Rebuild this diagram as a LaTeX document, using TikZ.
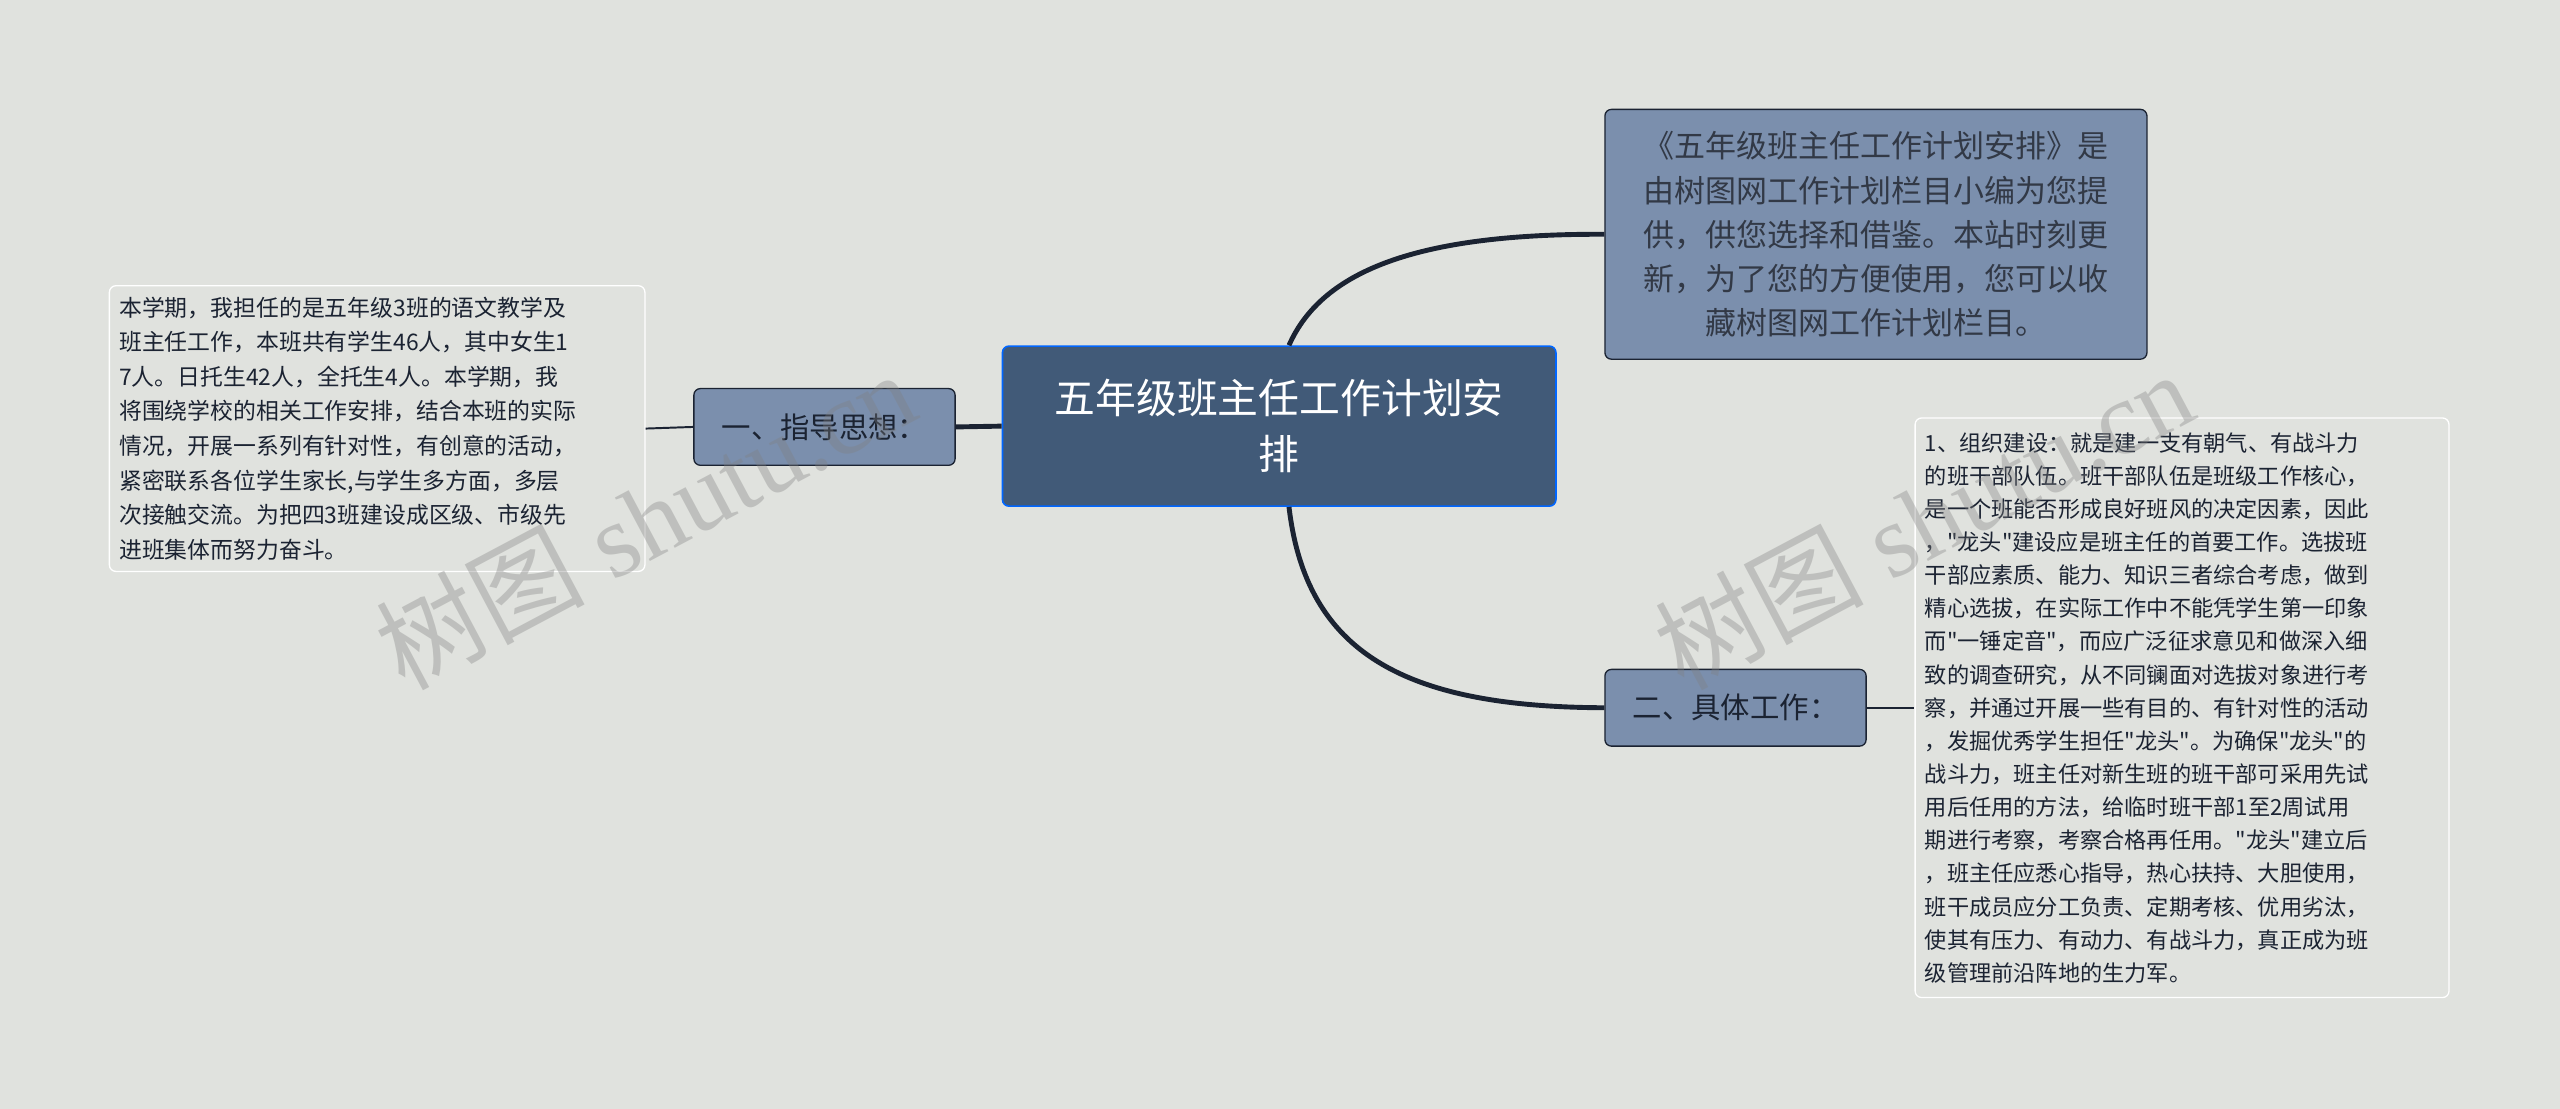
\documentclass[tikz,border=0pt]{standalone}
\usepackage{fontspec}
\newfontfamily\cjk{Noto Sans CJK SC}
\definecolor{bg}{HTML}{E0E2DE}
\definecolor{cen}{HTML}{415A78}
\definecolor{sub}{HTML}{7B8FAD}
\definecolor{ln}{HTML}{1B2332}
\begin{document}
\begin{tikzpicture}[x=1pt,y=-1pt,every node/.style={font=\cjk},
 subbox/.style={draw=ln,line width=0.8pt,fill=sub,rounded corners=4pt,inner sep=0pt},
 leaf/.style={draw=white,line width=0.8pt,fill=bg,rounded corners=4pt,inner sep=0pt},
 conn/.style={draw=ln,line width=3pt},
 wmark/.style={rotate=28,text=gray,opacity=0.35,font=\fontspec{Liberation Serif}\fontsize{64}{64}\selectfont}]
\fill[bg] (0,0) rectangle (1568,679);
\useasboundingbox (0,0) rectangle (1568,679);
% nodes
\node[draw=blue!60!cyan,line width=1pt,fill=cen,rounded corners=4pt,minimum width=339pt,minimum height=98pt,text=white,align=center,font=\cjk\fontsize{25}{34}\selectfont] (c) at (783.5,261) {五年级班主任工作计划安\\排};
\node[subbox,minimum width=332pt,minimum height=153pt,align=center,font=\cjk\fontsize{19}{27}\selectfont,text=ln!90] (t) at (1149,143.5) {《五年级班主任工作计划安排》是\\由树图网工作计划栏目小编为您提\\供，供您选择和借鉴。本站时刻更\\新，为了您的方便使用，您可以收\\藏树图网工作计划栏目。};
\node[subbox,minimum width=160pt,minimum height=47pt,font=\cjk\fontsize{18}{20}\selectfont,text=ln] (l) at (505,261.5) {一、指导思想：};
\node[subbox,minimum width=160pt,minimum height=47pt,font=\cjk\fontsize{18}{20}\selectfont,text=ln] (r) at (1063,433.5) {二、具体工作：};
\node[leaf,minimum width=328pt,minimum height=175pt,text width=316pt,align=left,font=\cjk\fontsize{14}{21.2}\selectfont,text=ln] (lt) at (231,262.5) {本学期，我担任的是五年级3班的语文教学及\\班主任工作，本班共有学生46人，其中女生1\\7人。日托生42人，全托生4人。本学期，我\\将围绕学校的相关工作安排，结合本班的实际\\情况，开展一系列有针对性，有创意的活动，\\紧密联系各位学生家长,与学生多方面，多层\\次接触交流。为把四3班建设成区级、市级先\\进班集体而努力奋斗。};
\node[leaf,minimum width=327pt,minimum height=355pt,text width=315pt,align=left,font=\cjk\fontsize{13.6}{20.3}\selectfont,text=ln] (rt) at (1336.5,433.5) {1、组织建设：就是建一支有朝气、有战斗力\\的班干部队伍。班干部队伍是班级工作核心，\\是一个班能否形成良好班风的决定因素，因此\\，"龙头"建设应是班主任的首要工作。选拔班\\干部应素质、能力、知识三者综合考虑，做到\\精心选拔，在实际工作中不能凭学生第一印象\\而"一锤定音"，而应广泛征求意见和做深入细\\致的调查研究，从不同镧面对选拔对象进行考\\察，并通过开展一些有目的、有针对性的活动\\，发掘优秀学生担任"龙头"。为确保"龙头"的\\战斗力，班主任对新生班的班干部可采用先试\\用后任用的方法，给临时班干部1至2周试用\\期进行考察，考察合格再任用。"龙头"建立后\\，班主任应悉心指导，热心扶持、大胆使用，\\班干成员应分工负责、定期考核、优用劣汰，\\使其有压力、有动力、有战斗力，真正成为班\\级管理前沿阵地的生力军。};
% connectors
\path (c.south west) ++(176,0) coordinate (cb);
\path (c.north west) ++(176,0) coordinate (ct);
\draw[conn] (ct) .. controls (810,165) and (870,143) .. (t.west);
\draw[conn] (cb) .. controls (800,400) and (860,433) .. (r.west);
\draw[conn] (c.west) -- (l.east);
\draw[ln,line width=1.2pt] (l.west) -- (lt.east);
\draw[ln,line width=1.2pt] (r.east) -- (rt.west);
% watermarks
\node[wmark] (w1) at (395,318) {{\cjk 树图} shutu.cn};
\node[wmark] (w2) at (1178,318) {{\cjk 树图} shutu.cn};
\end{tikzpicture}
\end{document}
